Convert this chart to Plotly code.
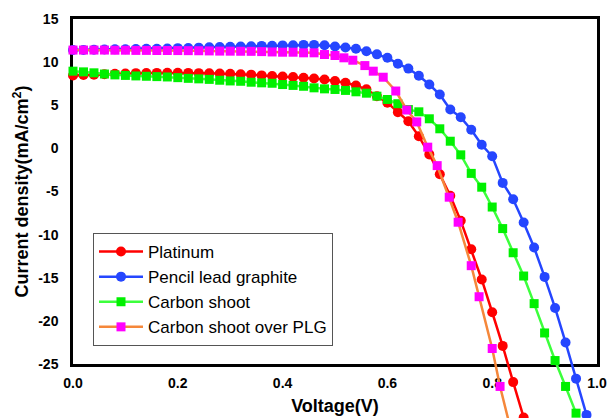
import plotly.graph_objects as go

# ---------------- data ----------------
v_grid = [0.00, 0.02, 0.04, 0.06, 0.08, 0.10, 0.12, 0.14, 0.16, 0.18,
          0.20, 0.22, 0.24, 0.26, 0.28, 0.30, 0.32, 0.34, 0.36, 0.38,
          0.40, 0.42, 0.44, 0.46, 0.48, 0.50, 0.52, 0.54, 0.56, 0.58,
          0.60, 0.62, 0.64, 0.66, 0.68, 0.70, 0.72, 0.74, 0.76, 0.78,
          0.80, 0.82, 0.84, 0.86, 0.88, 0.90, 0.92, 0.94, 0.96, 0.98]

j_platinum = [8.45, 8.50, 8.55, 8.60, 8.65, 8.68, 8.72, 8.74, 8.75, 8.76,
              8.76, 8.75, 8.72, 8.70, 8.68, 8.65, 8.60, 8.55, 8.46, 8.40,
              8.32, 8.27, 8.18, 8.10, 7.98, 7.80, 7.60, 7.29, 6.85, 6.05,
              5.30, 4.20, 3.15, 1.40, -0.70, -3.00, -5.50, -8.40, -11.70, -15.20,
              -19.00, -22.90, -27.10, -31.20]

j_plg = [11.40, 11.42, 11.44, 11.46, 11.48, 11.50, 11.52, 11.54, 11.56, 11.58,
         11.62, 11.64, 11.68, 11.72, 11.74, 11.78, 11.80, 11.84, 11.88, 11.90,
         11.94, 11.96, 12.00, 12.00, 11.96, 11.82, 11.70, 11.55, 11.27, 10.90,
         10.50, 9.82, 9.25, 8.42, 7.40, 6.25, 4.50, 3.60, 2.16, 0.42,
         -0.92, -4.00, -5.90, -8.60, -11.50, -14.90, -18.50, -22.50, -26.70, -30.90]

j_carbon = [8.95, 8.87, 8.76, 8.62, 8.52, 8.46, 8.40, 8.36, 8.32, 8.28,
            8.20, 8.12, 8.06, 8.00, 7.90, 7.82, 7.78, 7.67, 7.60, 7.55,
            7.40, 7.30, 7.20, 7.02, 6.90, 6.83, 6.72, 6.56, 6.40, 6.05,
            5.67, 5.18, 4.50, 4.24, 3.43, 2.27, 0.83, -0.75, -2.90, -4.50,
            -6.80, -9.30, -12.10, -14.80, -18.00, -21.40, -24.60, -27.60, -30.70]

v_cs_plg = [0.00, 0.02, 0.04, 0.06, 0.08, 0.10, 0.12, 0.14, 0.16, 0.18,
            0.20, 0.22, 0.24, 0.26, 0.28, 0.30, 0.32, 0.34, 0.36, 0.38,
            0.40, 0.42, 0.44, 0.46, 0.48, 0.500, 0.517, 0.534, 0.557, 0.573,
            0.592, 0.616, 0.637, 0.656, 0.677, 0.695, 0.718, 0.735, 0.760, 0.775,
            0.800, 0.815, 0.835]
j_cs_plg = [11.40, 11.40, 11.40, 11.40, 11.38, 11.38, 11.36, 11.36, 11.35, 11.35,
            11.34, 11.33, 11.32, 11.30, 11.28, 11.27, 11.26, 11.25, 11.22, 11.18,
            11.15, 11.15, 11.08, 11.08, 10.88, 10.77, 10.50, 10.22, 9.60, 8.95,
            8.25, 6.65, 4.45, 3.07, 0.14, -2.00, -5.66, -8.56, -13.60, -17.20,
            -23.20, -27.60, -32.50]

x_ticks = [0.0, 0.2, 0.4, 0.6, 0.8, 1.0]
x_ticktext = ["0.0", "0.2", "0.4", "0.6", "0.8", "1.0"]
y_ticks = [15, 10, 5, 0, -5, -10, -15, -20, -25]
y_ticktext = ["15", "10", "5", "0", "-5", "-10", "-15", "-20", "-25"]

# ---------------- layout geometry ----------------
W, H = 608, 418
m_l, m_r, m_t, m_b = 73, 11, 19, 0
plot_h = H - m_t - m_b
axis_bottom_px = 364
d0 = (H - m_b - axis_bottom_px) / plot_h   # visible axis domain start
y_top, y_bot = 15, -25
y2_bot = y_top - (y_top - y_bot) / (1 - d0)
x_lo, x_hi = 0.0, 1.0

FONT = "Arial, Liberation Sans, sans-serif"

fig = go.Figure()

# invisible placeholder so the framed (visible) subplot x/y exists
fig.add_trace(go.Scatter(x=[x_lo], y=[y_top], mode="markers",
                         marker=dict(opacity=0), showlegend=False,
                         hoverinfo="skip", xaxis="x", yaxis="y"))

series = [
    ("Platinum", v_grid[:len(j_platinum)], j_platinum, "#FF0000", "#FF0000", "circle", 10),
    ("Pencil lead graphite", v_grid[:len(j_plg)], j_plg, "#2546FF", "#2546FF", "circle", 10),
    ("Carbon shoot", v_grid[:len(j_carbon)], j_carbon, "#3CFF3C", "#00F000", "square", 9),
    ("Carbon shoot over PLG", v_cs_plg, j_cs_plg, "#F5873A", "#FF00FF", "square", 9),
]
for name, xs, ys, lc, mc, sym, sz in series:
    fig.add_trace(go.Scatter(
        x=xs, y=ys, name=name, mode="lines+markers",
        line=dict(color=lc, width=2.5),
        marker=dict(color=mc, symbol=sym, size=sz, line=dict(width=0)),
        xaxis="x2", yaxis="y2", cliponaxis=False,
    ))

fig.update_layout(
    width=W, height=H,
    margin=dict(l=m_l, r=m_r, t=m_t, b=m_b, autoexpand=False),
    paper_bgcolor="white", plot_bgcolor="rgba(0,0,0,0)",
    font=dict(family=FONT, color="black"),
    showlegend=True,
    xaxis=dict(
        range=[x_lo, x_hi], anchor="y", domain=[0, 1],
        tickvals=x_ticks, ticktext=x_ticktext,
        tickfont=dict(size=14, weight="bold", family=FONT),
        ticks="", ticklabelstandoff=4,
        showline=True, linecolor="black", linewidth=2.5, mirror=True,
        showgrid=False, zeroline=False, automargin=False,
        title=dict(text="Voltage(V)", font=dict(size=18, weight="bold", family=FONT), standoff=10),
    ),
    yaxis=dict(
        range=[y_bot, y_top], domain=[d0, 1], anchor="x",
        tickvals=y_ticks, ticktext=y_ticktext,
        tickfont=dict(size=14, weight="bold", family=FONT),
        ticks="", ticklabelstandoff=9,
        showline=True, linecolor="black", linewidth=2.5, mirror=True,
        showgrid=False, zeroline=False, automargin=False,
        title=dict(text="Current density(mA/cm<sup>2</sup>)",
                   font=dict(size=18, weight="bold", family=FONT), standoff=5),
    ),
    xaxis2=dict(
        range=[x_lo, x_hi], domain=[0, 1], anchor="y2",
        visible=False, showgrid=False, zeroline=False,
    ),
    yaxis2=dict(
        range=[y2_bot, y_top], domain=[0, 1], anchor="x2",
        visible=False, showgrid=False, zeroline=False,
    ),
    legend=dict(
        x=(93 - m_l) / (W - m_l - m_r), y=(H - m_b - 233) / plot_h,
        xanchor="left", yanchor="top",
        bgcolor="white", bordercolor="#555555", borderwidth=1,
        font=dict(size=17, family=FONT, color="black"),
        itemwidth=44, tracegroupgap=0,
    ),
)

fig.write_html("out.html", config={"displayModeBar": False},
               post_script="document.body.style.margin='0px';")
